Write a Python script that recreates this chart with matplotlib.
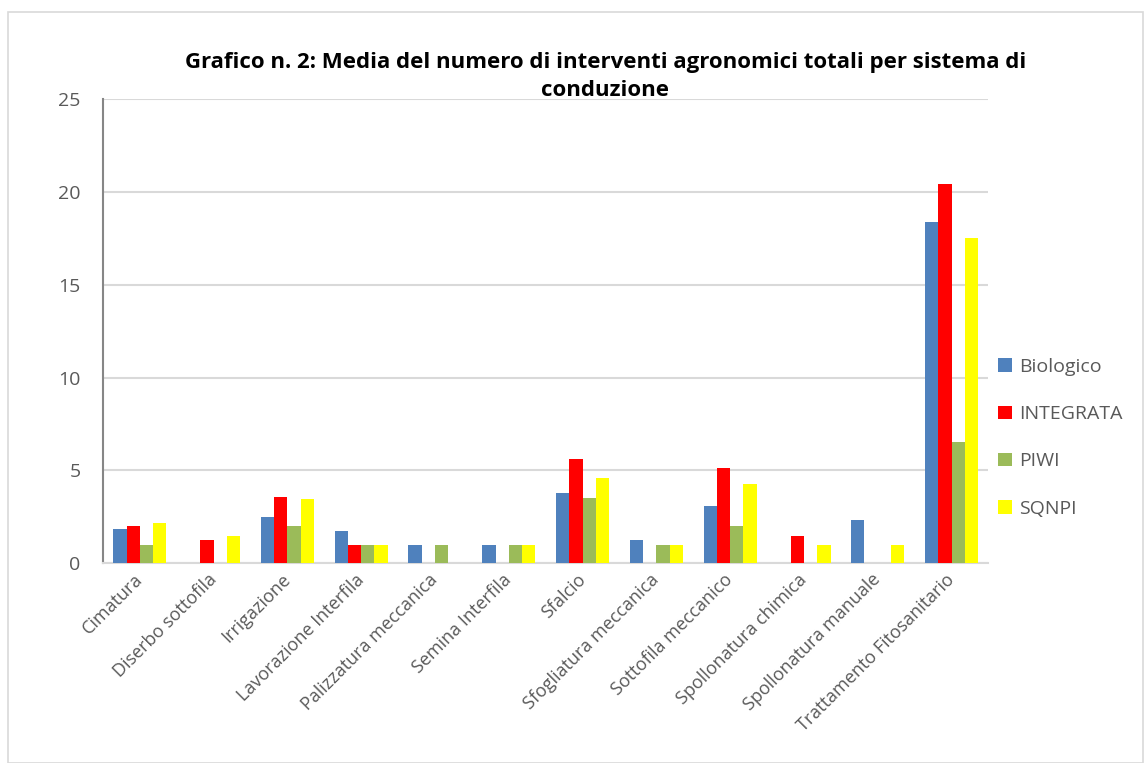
import numpy as np
import matplotlib
matplotlib.use("Agg")
import matplotlib.pyplot as plt
from matplotlib.patches import Rectangle

plt.rcParams['font.family'] = ['Open Sans', 'DejaVu Sans']

# Data
categories = ['Cimatura', 'Diserbo sottofila', 'Irrigazione', 'Lavorazione Interfila',
              'Palizzatura meccanica', 'Semina Interfila', 'Sfalcio', 'Sfogliatura meccanica',
              'Sottofila meccanico', 'Spollonatura chimica', 'Spollonatura manuale',
              'Trattamento Fitosanitario']
biologico = [1.85, 0, 2.46, 1.72, 1, 1, 3.76, 1.24, 3.07, 0, 2.32, 18.36]
integrata = [2.0, 1.24, 3.57, 1, 0, 0, 5.62, 0, 5.12, 1.47, 0, 20.45]
piwi = [1, 0, 2.0, 1, 1, 1, 3.52, 1, 2.0, 0, 0, 6.52]
sqnpi = [2.17, 1.46, 3.46, 1, 0, 1, 4.56, 1, 4.24, 1, 1, 17.5]

series = [('Biologico', biologico, '#4F81BD'),
          ('INTEGRATA', integrata, '#FF0000'),
          ('PIWI', piwi, '#9BBB59'),
          ('SQNPI', sqnpi, '#FFFF00')]

fig = plt.figure(figsize=(11.44, 7.63), dpi=100)
ax = fig.add_axes([0.090, 0.262, 0.774, 0.608])

# outer chart border
fig.patches.append(Rectangle((0.007, 0.0), 0.992, 0.984, transform=fig.transFigure,
                             fill=False, edgecolor='#D9D9D9', linewidth=1.2))

x = np.arange(len(categories))
w = 0.18
for i, (name, vals, col) in enumerate(series):
    ax.bar(x + (i - 1.5) * w, vals, width=w, color=col, label=name, zorder=3)

ax.set_xlim(-0.5, len(categories) - 0.5)
ax.set_ylim(0, 25)
ax.set_yticks(range(0, 26, 5))
ax.yaxis.grid(True, color='#D9D9D9', linewidth=1.5, zorder=0)
ax.tick_params(axis='y', length=0, labelsize=14, colors='#595959', pad=16)
ax.tick_params(axis='x', length=0, labelsize=13, colors='#595959', pad=10)
ax.set_xticks(x)
ax.set_xticklabels(categories, rotation=45, ha='right', va='center', rotation_mode='anchor')

for s in ['top', 'right']:
    ax.spines[s].set_visible(False)
ax.spines['left'].set_color('#868686')
ax.spines['left'].set_linewidth(1.5)
ax.spines['bottom'].set_color('#D9D9D9')
ax.spines['bottom'].set_linewidth(1.5)

fig.text(0.529, 0.900, 'Grafico n. 2: Media del numero di interventi agronomici totali per sistema di\nconduzione',
         ha='center', va='center', fontsize=16, fontweight='bold', color='#000000', linespacing=1.4)

leg = ax.legend(loc='center left', bbox_to_anchor=(1.0, 0.27), frameon=False,
                fontsize=14, handlelength=0.7, handleheight=0.7, labelspacing=1.5,
                handletextpad=0.4, borderaxespad=0.1)
for t in leg.get_texts():
    t.set_color('#595959')

fig.savefig('out.png', dpi=100)
